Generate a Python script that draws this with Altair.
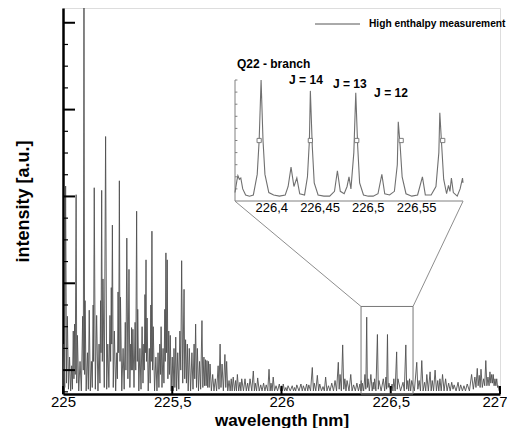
import altair as alt
import pandas as pd

# ---------------- main spectrum (wavelength [nm], intensity [a.u.]) ----------------
spec_wl = [
    225.000, 225.005, 225.008, 225.012, 225.016, 225.020, 225.025, 225.030, 225.035, 225.040,
    225.043, 225.047, 225.050, 225.053, 225.056, 225.060, 225.063, 225.066, 225.072, 225.078,
    225.084, 225.090, 225.093, 225.096, 225.099, 225.101, 225.106, 225.112, 225.116, 225.120,
    225.125, 225.130, 225.134, 225.138, 225.140, 225.143, 225.148, 225.154, 225.160, 225.165,
    225.169, 225.172, 225.174, 225.177, 225.180, 225.183, 225.189, 225.195, 225.200, 225.205,
    225.210, 225.215, 225.218, 225.221, 225.223, 225.226, 225.230, 225.235, 225.241, 225.246,
    225.249, 225.252, 225.255, 225.258, 225.261, 225.263, 225.269, 225.275, 225.280, 225.285,
    225.288, 225.292, 225.297, 225.302, 225.306, 225.310, 225.312, 225.314, 225.317, 225.320,
    225.325, 225.330, 225.333, 225.337, 225.340, 225.342, 225.347, 225.352, 225.357, 225.362,
    225.366, 225.370, 225.372, 225.375, 225.377, 225.380, 225.382, 225.385, 225.390, 225.395,
    225.399, 225.402, 225.404, 225.407, 225.410, 225.413, 225.419, 225.425, 225.430, 225.435,
    225.439, 225.443, 225.446, 225.449, 225.453, 225.458, 225.462, 225.466, 225.468, 225.471,
    225.474, 225.477, 225.480, 225.484, 225.487, 225.491, 225.495, 225.500, 225.504, 225.508,
    225.512, 225.516, 225.520, 225.525, 225.530, 225.535, 225.539, 225.543, 225.548, 225.554,
    225.557, 225.561, 225.565, 225.569, 225.573, 225.578, 225.584, 225.590, 225.595, 225.600,
    225.603, 225.607, 225.611, 225.615, 225.620, 225.625, 225.630, 225.636, 225.640, 225.645,
    225.648, 225.652, 225.655, 225.659, 225.662, 225.666, 225.669, 225.673, 225.679, 225.685,
    225.691, 225.697, 225.703, 225.710, 225.714, 225.719, 225.723, 225.728, 225.734, 225.741,
    225.745, 225.749, 225.754, 225.760, 225.765, 225.770, 225.774, 225.779, 225.785, 225.790,
    225.794, 225.798, 225.804, 225.810, 225.814, 225.818, 225.826, 225.833, 225.839, 225.845,
    225.850, 225.856, 225.864, 225.871, 225.876, 225.880, 225.886, 225.891, 225.898, 225.905,
    225.911, 225.918, 225.924, 225.930, 225.937, 225.943, 225.948, 225.952, 225.957, 225.962,
    225.968, 225.975, 225.982, 225.990, 225.996, 226.001, 226.004, 226.008, 226.014, 226.020,
    226.025, 226.030, 226.040, 226.049, 226.055, 226.060, 226.065, 226.070, 226.080, 226.089,
    226.095, 226.100, 226.108, 226.115, 226.120, 226.125, 226.133, 226.141, 226.146, 226.150,
    226.157, 226.164, 226.170, 226.175, 226.183, 226.190, 226.196, 226.202, 226.208, 226.215,
    226.222, 226.230, 226.238, 226.245, 226.252, 226.260, 226.264, 226.268, 226.274, 226.280,
    226.285, 226.290, 226.295, 226.300, 226.309, 226.317, 226.323, 226.330, 226.338, 226.345,
    226.352, 226.359, 226.362, 226.365, 226.367, 226.370, 226.376, 226.382, 226.386, 226.390,
    226.393, 226.396, 226.402, 226.409, 226.415, 226.420, 226.423, 226.426, 226.432, 226.439,
    226.443, 226.446, 226.456, 226.466, 226.472, 226.478, 226.481, 226.485, 226.488, 226.492,
    226.499, 226.506, 226.510, 226.514, 226.520, 226.527, 226.530, 226.533, 226.545, 226.556,
    226.562, 226.569, 226.573, 226.578, 226.582, 226.586, 226.591, 226.596, 226.608, 226.619,
    226.624, 226.630, 226.636, 226.642, 226.648, 226.655, 226.660, 226.665, 226.672, 226.680,
    226.685, 226.690, 226.696, 226.703, 226.709, 226.715, 226.720, 226.725, 226.731, 226.737,
    226.744, 226.751, 226.758, 226.765, 226.772, 226.779, 226.785, 226.790, 226.799, 226.808,
    226.814, 226.820, 226.828, 226.835, 226.842, 226.850, 226.860, 226.870, 226.878, 226.885,
    226.890, 226.896, 226.900, 226.905, 226.909, 226.913, 226.919, 226.925, 226.930, 226.935,
    226.940, 226.945, 226.950, 226.954, 226.958, 226.962, 226.966, 226.969, 226.973, 226.977,
    226.981, 226.985, 226.989, 226.992, 226.996, 226.999,
]
spec_int = [
    -0.22, 0.30, -0.20, 2.12, -0.15, 0.62, -0.22, 0.15, -0.24, 0.05,
    -0.22, 0.45, -0.10, 0.53, -0.05, 2.02, -0.15, 0.40, -0.24, 0.10,
    -0.24, 0.62, 0.00, 4.40, -0.05, 0.80, -0.24, 0.20, -0.22, 0.69,
    -0.24, 0.10, -0.20, 0.75, 0.10, 2.10, -0.22, 0.63, -0.24, 0.30,
    -0.15, 0.80, 0.20, 2.07, 0.10, 1.05, -0.20, 2.69, -0.22, 0.30,
    -0.20, 0.63, 0.10, 0.95, 0.30, 1.67, -0.20, 0.45, -0.24, 0.20,
    -0.10, 0.90, 0.20, 2.18, 0.10, 0.84, -0.24, 0.25, -0.22, 0.55,
    0.00, 1.52, -0.10, 1.16, -0.20, 0.30, 0.00, 0.49, 0.00, 0.47,
    -0.20, 0.55, 0.00, 1.83, 0.10, 0.70, -0.24, 0.25, -0.22, 0.50,
    -0.15, 0.30, 0.00, 0.87, 0.20, 1.27, 0.10, 0.60, -0.24, 0.25,
    -0.15, 0.75, 0.10, 1.60, 0.00, 0.50, -0.24, 0.15, -0.24, 0.20,
    -0.20, 0.30, -0.05, 0.50, -0.20, 0.25, -0.15, 0.70, 0.10, 1.35,
    0.20, 1.27, -0.10, 0.45, -0.05, 0.40, -0.24, 0.15, -0.24, 0.25,
    -0.20, 0.38, -0.24, 0.20, -0.22, 0.45, 0.00, 1.26, -0.15, 0.93,
    -0.10, 0.35, -0.15, 0.30, -0.24, 0.25, -0.24, 0.20, -0.22, 0.30,
    -0.10, 0.53, -0.20, 0.25, -0.24, 0.10, -0.22, 0.57, -0.20, 0.15,
    -0.18, 0.12, -0.18, 0.11, -0.20, 0.10, -0.20, 0.07, -0.24, -0.05,
    -0.24, -0.10, -0.24, 0.05, -0.22, 0.30, -0.20, 0.07, -0.24, 0.18,
    -0.20, 0.10, -0.24, -0.12, -0.24, -0.10, -0.24, -0.08, -0.24, -0.12,
    -0.24, -0.05, -0.24, -0.14, -0.24, -0.10, -0.24, -0.10, -0.24, -0.15,
    -0.24, -0.10, -0.24, -0.01, -0.24, -0.15, -0.24, -0.09, -0.24, -0.17,
    -0.24, -0.15, -0.24, -0.17, -0.24, 0.01, -0.24, -0.15, -0.24, -0.08,
    -0.24, -0.18, -0.24, -0.16, -0.24, -0.18, -0.24, -0.16, -0.24, -0.20,
    -0.24, -0.18, -0.24, -0.18, -0.24, -0.20, -0.24, -0.17, -0.24, -0.16,
    -0.24, -0.18, -0.24, -0.16, -0.24, -0.17, -0.24, 0.03, -0.24, -0.15,
    -0.24, -0.06, -0.24, -0.16, -0.24, -0.19, -0.24, -0.08, -0.24, -0.18,
    -0.24, -0.15, -0.24, -0.12, -0.24, 0.09, -0.22, -0.05, -0.24, 0.29,
    -0.22, -0.10, -0.24, -0.12, -0.24, -0.05, -0.24, -0.17, -0.24, -0.15,
    -0.24, -0.16, -0.24, -0.12, -0.24, -0.15, -0.24, -0.05, -0.22, 0.61,
    -0.20, -0.10, -0.24, -0.05, -0.24, -0.14, -0.22, -0.10, -0.24, 0.41,
    -0.22, -0.12, -0.24, -0.10, -0.24, -0.08, -0.22, 0.41, -0.20, -0.15,
    -0.24, -0.16, -0.24, -0.10, -0.24, 0.21, -0.22, -0.10, -0.24, -0.14,
    -0.24, 0.29, -0.22, -0.12, -0.24, -0.10, -0.24, -0.12, -0.24, 0.09,
    -0.22, -0.12, -0.24, 0.11, -0.24, -0.14, -0.24, -0.05, -0.24, -0.02,
    -0.24, -0.12, -0.24, 0.00, -0.24, -0.12, -0.24, -0.10, -0.24, -0.05,
    -0.24, -0.10, -0.24, -0.15, -0.24, -0.14, -0.22, -0.17, -0.24, -0.14,
    -0.24, -0.17, -0.24, -0.18, -0.24, -0.16, -0.24, -0.05, -0.22, -0.08,
    -0.20, 0.02, -0.18, -0.06, -0.20, 0.01, -0.20, -0.10, -0.18, 0.11,
    -0.18, -0.08, -0.18, -0.02, -0.15, -0.05, -0.15, -0.05, -0.18, -0.10,
    -0.18, -0.10, -0.20, -0.18, -0.24, -0.24,
]
assert len(spec_wl) == len(spec_int)

# ---------------- inset: Q22 branch detail ----------------
inset_wl = [
    226.362, 226.364, 226.365, 226.3665, 226.368, 226.370, 226.373, 226.377, 226.381, 226.385,
    226.387, 226.389, 226.391, 226.393, 226.397, 226.402, 226.408, 226.414, 226.417, 226.420,
    226.423, 226.426, 226.429, 226.434, 226.437, 226.439, 226.440, 226.442, 226.444, 226.448,
    226.454, 226.460, 226.465, 226.468, 226.471, 226.475, 226.478, 226.480, 226.482, 226.485,
    226.487, 226.489, 226.491, 226.495, 226.500, 226.505, 226.510, 226.514, 226.517, 226.522,
    226.527, 226.530, 226.531, 226.533, 226.535, 226.539, 226.545, 226.551, 226.556, 226.559,
    226.565, 226.570, 226.573, 226.574, 226.576, 226.578, 226.581, 226.583, 226.5845, 226.586,
    226.588, 226.592, 226.595, 226.5975, 226.598,
]
inset_int = [
    0.07, 0.17, 0.21, 0.18, 0.19, 0.10, 0.05, 0.04, 0.05, 0.22,
    0.50, 1.00, 0.50, 0.22, 0.07, 0.05, 0.04, 0.05, 0.12, 0.28,
    0.12, 0.19, 0.06, 0.05, 0.20, 0.50, 0.91, 0.45, 0.15, 0.05,
    0.04, 0.04, 0.08, 0.25, 0.08, 0.06, 0.12, 0.20, 0.10, 0.40,
    0.895, 0.45, 0.15, 0.05, 0.04, 0.04, 0.06, 0.22, 0.06, 0.05,
    0.08, 0.30, 0.655, 0.45, 0.20, 0.06, 0.04, 0.05, 0.20, 0.05,
    0.05, 0.12, 0.40, 0.73, 0.45, 0.18, 0.06, 0.13, 0.08, 0.19,
    0.07, 0.04, 0.10, 0.19, 0.15,
]
assert len(inset_wl) == len(inset_int)

marker_wl = [226.387, 226.440, 226.488, 226.534, 226.577]
marker_int = [0.50, 0.50, 0.50, 0.50, 0.50]

inset_xticks = [226.4, 226.45, 226.5, 226.55]
inset_yticks = [0.1, 0.2, 0.3, 0.4, 0.5, 0.6, 0.7, 0.8, 0.9, 1.0]

annot_text = ["Q22 - branch", "J = 14", "J = 13", "J = 12"]
annot_wl = [226.364, 226.418, 226.4634, 226.506]
annot_int = [1.10, 0.967, 0.934, 0.86]

# main axis ticks
x_ticks = [225, 225.5, 226, 226.5, 227]
y_major = [0, 1, 2, 3, 4]
y_minor = [-0.25, 0.25, 0.5, 0.75, 1.25, 1.5, 1.75, 2.25, 2.5, 2.75, 3.25, 3.5, 3.75]

# zoom window on the main spectrum and inset corner positions (main data units)
zoom_wl = [226.364, 226.602]
zoom_top = 0.733
inset_corner_wl = [225.787, 226.831]
inset_corner_int = 1.946

legend_label = "High enthalpy measurement"

# ---------------- layout ----------------
W, H = 437, 386
FONT = "Liberation Sans"
Y_DOM = [-0.275, 4.17]
xs = alt.Scale(domain=[225, 227], nice=False, zero=False)
ys = alt.Scale(domain=Y_DOM, nice=False, zero=False)
ixs = alt.Scale(domain=[inset_wl[0], inset_wl[-1]], range=[172, 400], nice=False, zero=False)
iys = alt.Scale(domain=[0, 1], range=[193, 72], nice=False, zero=False)

x_axis = alt.Axis(
    values=x_ticks, labelExpr="replace(toString(datum.value), '.', ',')",
    title="wavelength [nm]", ticks=False, tickSize=0, grid=False,
    domainColor="black", domainWidth=2.5, labelFlush=False, labelOverlap=False,
    labelAlign=alt.ConditionalAxisLabelAlign(
        condition={"test": "datum.value >= 227", "value": "right"}, value="center"),
    labelOffset=alt.ConditionalAxisNumber(
        condition={"test": "datum.value >= 227", "value": 7}, value=0),
    labelFont=FONT, labelFontSize=15, labelColor="black", labelPadding=0,
    titleFont=FONT, titleFontSize=17, titleFontWeight="bold", titleColor="black",
    titleBaseline="alphabetic", titleY=31,
)
y_axis = alt.Axis(
    labels=False, ticks=False, tickSize=0, grid=False, domainColor="black", domainWidth=2.5,
    title="intensity [a.u.]", titleFont=FONT, titleFontSize=18, titleFontWeight="bold",
    titleColor="black", titlePadding=31,
)

spec_df = pd.DataFrame({"wl": spec_wl, "inten": spec_int})
spectrum = alt.Chart(spec_df).mark_line(color="#505050", strokeWidth=0.9, clip=True).encode(
    x=alt.X("wl:Q", scale=xs, axis=x_axis),
    y=alt.Y("inten:Q", scale=ys, axis=y_axis),
)

ymaj = alt.Chart(pd.DataFrame({"inten": y_major})).mark_rule(color="black", strokeWidth=2).encode(
    y=alt.Y("inten:Q", scale=ys), x=alt.value(0), x2=alt.value(12)
)
ymin = alt.Chart(pd.DataFrame({"inten": y_minor})).mark_rule(color="black", strokeWidth=1.2).encode(
    y=alt.Y("inten:Q", scale=ys), x=alt.value(0), x2=alt.value(5)
)
xtk = alt.Chart(pd.DataFrame({"wl": x_ticks})).mark_rule(color="black", strokeWidth=2).encode(
    x=alt.X("wl:Q", scale=xs), y=alt.value(H), y2=alt.value(H - 8)
)

zoom_df = pd.DataFrame({"wl": [zoom_wl[0]], "wl2": [zoom_wl[1]], "inten": [Y_DOM[0]], "inten2": [zoom_top]})
zoom_box = alt.Chart(zoom_df).mark_rect(fillOpacity=0, stroke="#777777", strokeWidth=1).encode(
    x=alt.X("wl:Q", scale=xs), x2="wl2:Q", y=alt.Y("inten:Q", scale=ys), y2="inten2:Q"
)
conn_df = pd.DataFrame({
    "wl": zoom_wl, "inten": [zoom_top, zoom_top],
    "wl2": inset_corner_wl, "inten2": [inset_corner_int, inset_corner_int],
})
connectors = alt.Chart(conn_df).mark_rule(color="#808080", strokeWidth=0.9).encode(
    x=alt.X("wl:Q", scale=xs), x2="wl2:Q", y=alt.Y("inten:Q", scale=ys), y2="inten2:Q"
)

leg_line = alt.Chart(pd.DataFrame({"a": [0]})).mark_rule(color="#555555", strokeWidth=1).encode(
    x=alt.value(252), x2=alt.value(297), y=alt.value(16)
)
leg_text = alt.Chart(pd.DataFrame({"a": [0]})).mark_text(
    text=legend_label, align="left", baseline="middle", font=FONT, fontSize=10.2,
    fontWeight="bold", color="black"
).encode(x=alt.value(306), y=alt.value(16))

main = alt.layer(spectrum, ymaj, ymin, xtk, zoom_box, connectors, leg_line, leg_text)

# ---------------- inset layers ----------------
def ix(f="wl:Q"):
    return alt.X(f, scale=ixs, axis=None)

def iy(f="inten:Q"):
    return alt.Y(f, scale=iys, axis=None)

inset_df = pd.DataFrame({"wl": inset_wl, "inten": inset_int})
inset_line = alt.Chart(inset_df).mark_line(color="#707070", strokeWidth=1.1).encode(x=ix(), y=iy())

mark_df = pd.DataFrame({"wl": marker_wl, "inten": marker_int})
inset_marks = alt.Chart(mark_df).mark_point(
    shape="square", size=18, filled=True, fill="white", stroke="#707070", strokeWidth=0.9, opacity=1
).encode(x=ix(), y=iy())

left_ax = alt.Chart(pd.DataFrame({"wl": [inset_wl[0]], "inten": [0], "inten2": [1]})).mark_rule(
    color="#808080", strokeWidth=1).encode(x=ix(), y=iy(), y2="inten2:Q")
bottom_ax = alt.Chart(pd.DataFrame({"wl": [inset_wl[0]], "wl2": [inset_wl[-1]], "inten": [0]})).mark_rule(
    color="#808080", strokeWidth=1).encode(x=ix(), x2="wl2:Q", y=iy())
ytick_df = pd.DataFrame({"inten": inset_yticks, "wl": [inset_wl[0]] * len(inset_yticks),
                         "wl2": [inset_wl[0] + 0.0025] * len(inset_yticks)})
left_ticks = alt.Chart(ytick_df).mark_rule(color="#808080", strokeWidth=1).encode(
    x=ix(), x2="wl2:Q", y=iy())
xtick_df = pd.DataFrame({"wl": inset_xticks, "inten": [0] * len(inset_xticks)})
inset_labels = alt.Chart(xtick_df).transform_calculate(
    label="replace(toString(datum.wl), '.', ',')"
).mark_text(baseline="top", dy=1, font=FONT, fontSize=13, color="black").encode(
    x=ix(), y=iy(), text="label:N")

annot_df = pd.DataFrame({"wl": annot_wl, "inten": annot_int, "label": annot_text})
annots = alt.Chart(annot_df).mark_text(
    align="left", baseline="alphabetic", font=FONT, fontSize=12, fontWeight="bold", color="black"
).encode(x=ix(), y=iy(), text="label:N")

inset = alt.layer(left_ax, bottom_ax, left_ticks, inset_line, inset_marks, inset_labels, annots)

chart = alt.layer(main, inset).resolve_scale(x="independent", y="independent").properties(
    width=W, height=H,
    padding={"left": 55, "top": 0, "right": 7, "bottom": 34},
    autosize=alt.AutoSizeParams(type="none"),
).configure_view(stroke=None).configure(background="white")

chart.save("out.html", embed_options={"renderer": "svg", "actions": False})
